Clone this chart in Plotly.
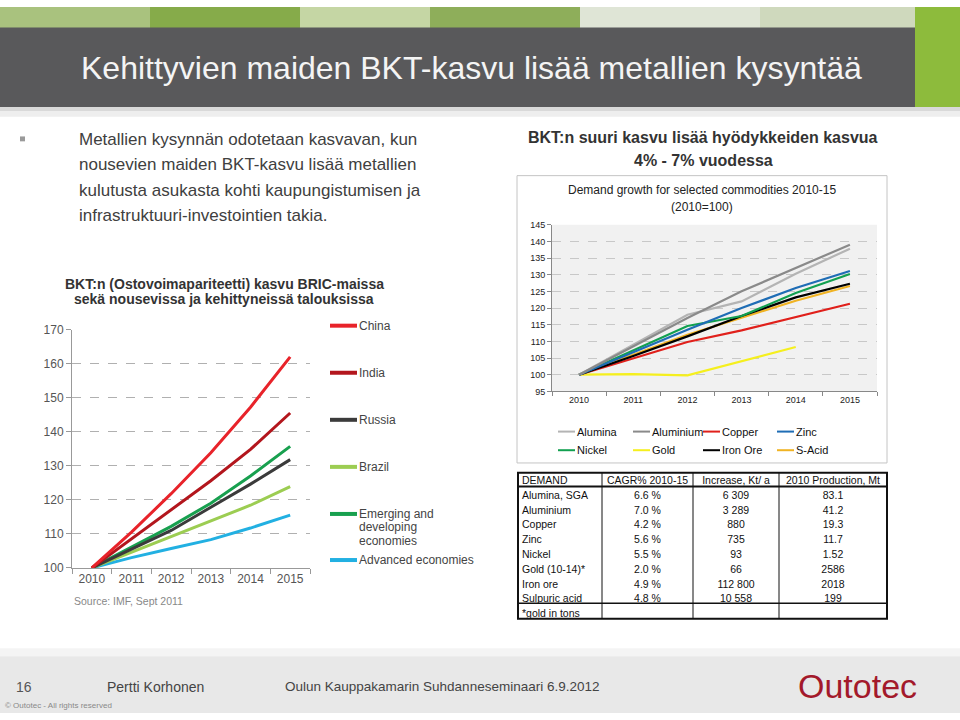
import plotly.graph_objects as go

W, H = 960, 720
def px(x):
    return x / W
def py(y):
    return 1 - y / H

FONT = "Liberation Sans, Arial, sans-serif"
NB = "\u00a0"
PAD = 2  # annotation inner offset compensation (px)

# ---------------- Data: left chart (GDP PPP growth, 2010=100) ----------------
years = ["2010", "2011", "2012", "2013", "2014", "2015"]
gdp_names = ["China", "India", "Russia", "Brazil", "Emerging and developing economies", "Advanced economies"]
china = [100, 110.5, 121.8, 133.8, 147.2, 162.0]
india = [100, 108.6, 117.0, 125.6, 134.8, 145.5]
russia = [100, 105.6, 111.0, 117.8, 124.6, 131.8]
brazil = [100, 104.6, 109.2, 113.6, 118.4, 123.9]
emerging = [100, 106.0, 112.2, 119.0, 127.0, 135.7]
advanced = [100, 103.0, 105.7, 108.3, 111.7, 115.5]
gdp_colors = ["#e8232a", "#b3161d", "#3b3b3b", "#9ccd52", "#18a04f", "#22b0e2"]
gdp_legend_labels = [["China"], ["India"], ["Russia"], ["Brazil"],
                     ["Emerging and", "developing", "economies"], ["Advanced economies"]]

# ---------------- Data: right chart (commodity demand, 2010=100) ----------------
commodities = ["Alumina", "Aluminium", "Copper", "Zinc", "Nickel", "Gold", "Iron Ore", "S-Acid"]
alumina = [100, 109.0, 118.0, 122.0, 130.3, 137.8]
aluminium = [100, 108.5, 117.0, 125.0, 132.0, 139.0]
copper = [100, 105.0, 109.8, 113.3, 117.2, 121.3]
zinc = [100, 106.8, 113.5, 120.0, 126.0, 131.1]
nickel = [100, 107.2, 114.6, 117.6, 124.5, 130.2]
gold = [100, 100.2, 99.8, 104.1, 108.3, None]
iron_ore = [100, 105.6, 111.5, 117.6, 123.2, 127.3]
s_acid = [100, 105.9, 112.0, 117.1, 122.2, 126.6]
com_colors = ["#b4b4b4", "#8a8a8a", "#e0201b", "#1f6db5", "#12a050", "#f5ef1e", "#000000", "#f0b323"]

# ---------------- Data: table ----------------
tbl_header = ["DEMAND", "CAGR% 2010-15", "Increase, Kt/ a", "2010 Production, Mt"]
tbl_items = ["Alumina, SGA", "Aluminium", "Copper", "Zinc", "Nickel", "Gold (10-14)*",
             "Iron ore", "Sulpuric acid", "*gold in tons"]
tbl_cagr = ["6.6 %", "7.0 %", "4.2 %", "5.6 %", "5.5 %", "2.0 %", "4.9 %", "4.8 %", ""]
tbl_increase = ["6 309", "3 289", "880", "735", "93", "66", "112 800", "10 558", ""]
tbl_prod = ["83.1", "41.2", "19.3", "11.7", "1.52", "2586", "2018", "199", ""]

def nowrap(items):
    return [s.replace(" ", NB) for s in items]

fig = go.Figure()

# Left chart traces
gdp_values = [china, india, russia, brazil, emerging, advanced]
for name, vals, col in reversed(list(zip(gdp_names, gdp_values, gdp_colors))):
    fig.add_trace(go.Scatter(x=years, y=vals, mode="lines", name=name,
                             line=dict(color=col, width=3), xaxis="x", yaxis="y",
                             showlegend=False))

# Right chart traces
com_values = [alumina, aluminium, copper, zinc, nickel, gold, iron_ore, s_acid]
draw_order = [5, 2, 7, 6, 4, 3, 0, 1]
for i in draw_order:
    fig.add_trace(go.Scatter(x=years, y=com_values[i], mode="lines", name=commodities[i],
                             line=dict(color=com_colors[i], width=2.2), xaxis="x2", yaxis="y2",
                             showlegend=False))

# Table
fig.add_trace(go.Table(
    domain=dict(x=[px(514), px(887)], y=[py(628), py(470.5)]),
    columnwidth=[88, 91, 86, 108],
    header=dict(values=nowrap(tbl_header), align=["left", "center", "center", "center"], height=14.6,
                font=dict(family=FONT, size=10.5, color="#111"),
                fill_color="rgba(0,0,0,0)", line=dict(color="rgba(0,0,0,0)", width=0)),
    cells=dict(values=[nowrap(tbl_items), nowrap(tbl_cagr), nowrap(tbl_increase), nowrap(tbl_prod)],
               align=["left", "center", "center", "center"], height=14.8,
               font=dict(family=FONT, size=10.5, color="#111"),
               fill_color="rgba(0,0,0,0)", line=dict(color="rgba(0,0,0,0)", width=0)),
))

shapes = []
# Banner background
shapes += [
    dict(type="rect", xref="paper", yref="paper", x0=0, x1=1, y0=py(24), y1=1, fillcolor="#a9c27e", line_width=0, layer="below"),
    dict(type="rect", xref="paper", yref="paper", x0=px(150), x1=px(300), y0=py(24), y1=1, fillcolor="#86ab4a", line_width=0, layer="below"),
    dict(type="rect", xref="paper", yref="paper", x0=px(300), x1=px(430), y0=py(24), y1=1, fillcolor="#c5d6a4", line_width=0, layer="below"),
    dict(type="rect", xref="paper", yref="paper", x0=px(430), x1=px(580), y0=py(24), y1=1, fillcolor="#8eae5a", line_width=0, layer="below"),
    dict(type="rect", xref="paper", yref="paper", x0=px(580), x1=px(760), y0=py(24), y1=1, fillcolor="#dfe5d6", line_width=0, layer="below"),
    dict(type="rect", xref="paper", yref="paper", x0=px(760), x1=px(915), y0=py(24), y1=1, fillcolor="#cfd9bd", line_width=0, layer="below"),
    dict(type="rect", xref="paper", yref="paper", x0=px(915), x1=1, y0=py(102), y1=1, fillcolor="#8dbb3c", line_width=0, layer="below"),
    dict(type="rect", xref="paper", yref="paper", x0=0, x1=px(915), y0=py(102), y1=py(21), fillcolor="#59595b", line_width=0, layer="below"),
    dict(type="rect", xref="paper", yref="paper", x0=0, x1=1, y0=py(106), y1=py(102), fillcolor="#d9d9d9", line_width=0, layer="below"),
    dict(type="rect", xref="paper", yref="paper", x0=0, x1=1, y0=py(112), y1=py(106), fillcolor="#eeeeee", line_width=0, layer="below"),
    # Footer
    dict(type="rect", xref="paper", yref="paper", x0=0, x1=1, y0=py(662), y1=py(654), fillcolor="#f4f4f4", line_width=0, layer="below"),
    dict(type="rect", xref="paper", yref="paper", x0=0, x1=1, y0=0, y1=py(662), fillcolor="#e8e8e8", line_width=0, layer="below"),
    # Bullet square
    dict(type="rect", xref="paper", yref="paper", x0=px(20), x1=px(25), y0=py(137), y1=py(132), fillcolor="#9a9a9a", line_width=0, layer="below"),
    # Right chart box
    dict(type="rect", xref="paper", yref="paper", x0=px(517), x1=px(887), y0=py(465), y1=py(172), line=dict(color="#c4c4c4", width=1), fillcolor="rgba(0,0,0,0)", layer="below"),
    # Right chart plot background
    dict(type="rect", xref="x2 domain", yref="y2 domain", x0=0, x1=1, y0=0, y1=1, fillcolor="#f1f1f1", line_width=0, layer="below"),
]

annotations = []
def add_text(t, x, y, size, color, anchor="left", bold=False):
    annotations.append(dict(text=("<b>" + t + "</b>") if bold else t,
                            x=px(x - PAD if anchor == "left" else x), y=py(y),
                            xref="paper", yref="paper", xanchor=anchor, yanchor="middle",
                            showarrow=False, font=dict(family=FONT, size=size, color=color)))

# Banner title
add_text("Kehittyvien maiden BKT-kasvu lisää metallien kysyntää", 81, 62, 32, "#f4f4f4")
# Bullet text
bullet_lines = ["Metallien kysynnän odotetaan kasvavan, kun",
                "nousevien maiden BKT-kasvu lisää metallien",
                "kulutusta asukasta kohti kaupungistumisen ja",
                "infrastruktuuri-investointien takia."]
for i, t in enumerate(bullet_lines):
    add_text(t, 79, 135 + i * 26, 17, "#404040")
# Left chart title
for i, t in enumerate(["BKT:n (Ostovoimapariteetti) kasvu BRIC-maissa",
                       "sekä nousevissa ja kehittyneissä talouksissa"]):
    add_text(t, 224, 283 + i * 15, 14, "#333333", anchor="center", bold=True)
add_text("Source: IMF, Sept 2011", 74, 606, 10.5, "#888888")
# Left legend
leg_y = [325, 373, 421, 469, 517, 564]
for labels, col, yy in zip(gdp_legend_labels, gdp_colors, leg_y):
    shapes.append(dict(type="line", xref="paper", yref="paper", x0=px(330), x1=px(357), y0=py(yy), y1=py(yy),
                       line=dict(color=col, width=4)))
    for j, lab in enumerate(labels):
        add_text(lab, 359, yy + j * 13.7, 12, "#444444")
# Right chart titles
for i, t in enumerate(["BKT:n suuri kasvu lisää hyödykkeiden kasvua", "4% - 7% vuodessa"]):
    add_text(t, 703, 133 + i * 24, 16, "#333333", anchor="center", bold=True)
for i, t in enumerate(["Demand growth for selected commodities 2010-15", "(2010=100)"]):
    add_text(t, 702, 187 + i * 16.5, 12, "#222222", anchor="center")
# Right legend (2 rows x 4 columns)
col_x = [558, 633, 703, 777]
row_y = [433, 452]
for k, (name, col) in enumerate(zip(commodities, com_colors)):
    cx = col_x[k % 4]
    ry = row_y[k // 4]
    shapes.append(dict(type="line", xref="paper", yref="paper", x0=px(cx), x1=px(cx + 17), y0=py(ry), y1=py(ry),
                       line=dict(color=col, width=2)))
    add_text(name, cx + 19, ry, 11, "#111111")
# Table borders
shapes += [
    dict(type="rect", xref="paper", yref="paper", x0=px(518), x1=px(887), y0=py(624), y1=py(475),
         line=dict(color="#111", width=2), fillcolor="rgba(0,0,0,0)"),
    dict(type="line", xref="paper", yref="paper", x0=px(518), x1=px(887), y0=py(489), y1=py(489),
         line=dict(color="#111", width=2)),
    dict(type="line", xref="paper", yref="paper", x0=px(518), x1=px(887), y0=py(608), y1=py(608),
         line=dict(color="#111", width=1.5)),
]
for vx in [602, 693, 779]:
    shapes.append(dict(type="line", xref="paper", yref="paper", x0=px(vx), x1=px(vx), y0=py(624), y1=py(475),
                       line=dict(color="#111", width=1)))
# Footer texts
add_text("16", 16, 693, 14, "#555555")
add_text("Pertti Korhonen", 107, 693, 14, "#444444")
add_text("Oulun Kauppakamarin Suhdanneseminaari 6.9.2012", 285, 693, 13.5, "#444444")
add_text("© Outotec - All rights reserved", 5, 712, 8, "#888888")
add_text("Outotec", 798, 692, 34, "#a3192b")

fig.update_layout(
    width=W, height=H, margin=dict(l=0, r=0, t=0, b=0),
    paper_bgcolor="white", plot_bgcolor="rgba(0,0,0,0)",
    showlegend=False, shapes=shapes, annotations=annotations,
    font=dict(family=FONT),
    xaxis=dict(domain=[px(72), px(310)], type="category", range=[-0.5, 5.5], anchor="y",
               tickson="boundaries", ticks="outside", ticklen=5, tickcolor="#999",
               showline=True, linecolor="#999", linewidth=1, showgrid=False,
               tickfont=dict(family=FONT, size=12, color="#555")),
    yaxis=dict(domain=[py(572), py(329)], range=[100, 170], dtick=10, anchor="x",
               ticks="outside", ticklen=5, tickcolor="#999", showline=True, linecolor="#999",
               showgrid=True, gridcolor="#b0b0b0", griddash="dash", zeroline=False,
               tickfont=dict(family=FONT, size=12, color="#555")),
    xaxis2=dict(domain=[px(552), px(877)], type="category", range=[-0.5, 5.5], anchor="y2",
                tickson="boundaries", ticks="outside", ticklen=4, tickcolor="#888",
                showline=True, linecolor="#888", linewidth=1, showgrid=False,
                tickfont=dict(family=FONT, size=9, color="#222")),
    yaxis2=dict(domain=[py(392), py(222)], range=[95, 145], dtick=5, anchor="x2",
                ticks="outside", ticklen=4, tickcolor="#888", showline=True, linecolor="#888",
                showgrid=True, gridcolor="#c8c8c8", griddash="dash", zeroline=False,
                tickfont=dict(family=FONT, size=9, color="#222")),
)

fig.write_html("out.html")
